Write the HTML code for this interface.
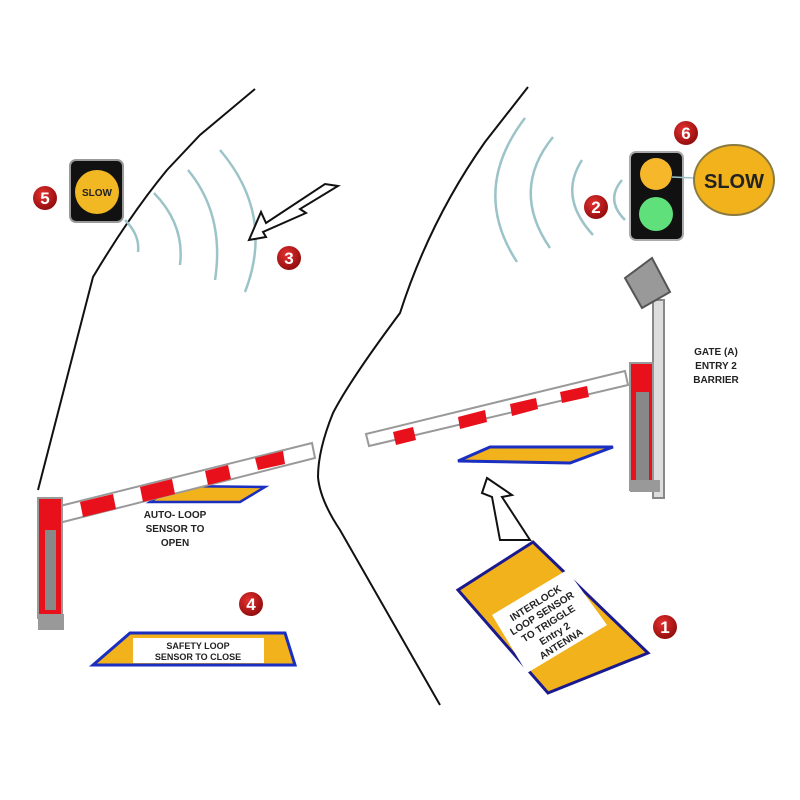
<!DOCTYPE html>
<html><head><meta charset="utf-8"><style>
html,body{margin:0;padding:0;background:#fff;}
svg{display:block;}
text{font-family:"Liberation Sans",sans-serif;}
</style></head><body>
<svg width="800" height="800" viewBox="0 0 800 800" xmlns="http://www.w3.org/2000/svg">
<defs>
<radialGradient id="rb" cx="40%" cy="35%" r="70%"><stop offset="0" stop-color="#e53030"/><stop offset="1" stop-color="#8e0b0b"/></radialGradient>
</defs>
<rect width="800" height="800" fill="#fff"/>
<!-- road lines -->
<path d="M255,89 L200,135 L167,170 Q130,215 93,277 L38,490" fill="none" stroke="#111" stroke-width="2"/>
<path d="M528,87 L485,142 Q430,220 400,313 Q350,380 333,413 Q318,450 318,477 Q320,500 340,530 L440,705" fill="none" stroke="#111" stroke-width="2"/>
<!-- arcs -->
<g fill="none" stroke="#9cc4c8" stroke-width="2.5">
<path d="M125,220 Q140,235 138,252"/>
<path d="M154,193 Q185,225 180,265"/>
<path d="M188,170 Q225,215 215,280"/>
<path d="M220,150 Q275,215 245,292"/>
<path d="M525,118 Q470,190 517,262"/>
<path d="M553,137 Q510,190 550,248"/>
<path d="M582,160 Q558,197 593,235"/>
<path d="M622,180 Q605,200 625,220"/>
</g>
<!-- arrow 3 -->
<polygon points="249,240 261,212 266,223 325,184 338,186 300,209 306,213 263,232 266,237" fill="#fff" stroke="#111" stroke-width="2"/>
<!-- sign 5 -->
<rect x="70" y="160" width="53" height="62" rx="6" fill="#111" stroke="#999" stroke-width="2"/>
<circle cx="97" cy="192" r="22" fill="#f2b824"/>
<text x="97" y="196" font-size="10" font-weight="bold" text-anchor="middle" fill="#222">SLOW</text>
<!-- traffic light -->
<rect x="630" y="152" width="53" height="88" rx="6" fill="#111" stroke="#aaa" stroke-width="2"/>
<circle cx="656" cy="174" r="16" fill="#f7b72b"/>
<circle cx="656" cy="214" r="17" fill="#5fe07a"/>
<line x1="672" y1="177" x2="694" y2="178" stroke="#9cc4c8" stroke-width="1.5"/>
<ellipse cx="734" cy="180" rx="40" ry="35" fill="#f2b21c" stroke="#8a7a40" stroke-width="2"/>
<text x="734" y="188" font-size="20" font-weight="bold" text-anchor="middle" fill="#222">SLOW</text>
<!-- camera + pole -->
<rect x="653" y="300" width="11" height="198" fill="#ddd" stroke="#888" stroke-width="2"/>
<polygon points="625,278 652,258 670,292 642,308" fill="#999" stroke="#555" stroke-width="2"/>
<!-- right boom -->
<polygon points="366,434 625,371 628,385 369,446" fill="#fff" stroke="#999" stroke-width="2"/>
<g fill="#e8101a">
<polygon points="393,432 413,427 416,440 396,445"/>
<polygon points="458,417 485,410 487,422 460,429"/>
<polygon points="510,404 536,398 538,409 512,416"/>
<polygon points="560,392 587,386 589,397 562,403"/>
</g>
<!-- right cabinet -->
<rect x="630" y="363" width="23" height="127" fill="#e8101a" stroke="#999" stroke-width="2"/>
<rect x="636" y="392" width="13" height="88" fill="#888"/>
<rect x="630" y="480" width="30" height="12" fill="#999"/>
<!-- right loop -->
<polygon points="458,461 490,447 613,447 570,463" fill="#f2b21c" stroke="#1a2ec0" stroke-width="3"/>
<!-- gate text -->
<g font-size="10" font-weight="bold" fill="#222" text-anchor="middle">
<text x="716" y="355">GATE (A)</text><text x="716" y="369">ENTRY 2</text><text x="716" y="383">BARRIER</text>
</g>
<!-- hollow arrow up -->
<polygon points="500,540 530,540 502,497 512,495 487,478 482,493 492,497" fill="#fff" stroke="#111" stroke-width="2"/>
<!-- interlock sensor -->
<polygon points="533,542 458,590 548,693 648,653" fill="#f2b21c" stroke="#1a1a8e" stroke-width="3"/>
<polygon points="492,615 567,570 607,625 527,673" fill="#fff"/>
<g transform="translate(548,623) rotate(-32)" font-size="10" font-weight="bold" fill="#222" text-anchor="middle">
<text x="0" y="-20">INTERLOCK</text><text x="0" y="-8">LOOP SENSOR</text><text x="0" y="4">TO TRIGGLE</text><text x="0" y="16">Entry 2</text><text x="0" y="28">ANTENNA</text>
</g>
<!-- left loop auto (under boom) -->
<polygon points="150,502 175,486 265,487 240,502" fill="#f2b21c" stroke="#1a2ec0" stroke-width="2.5"/>
<!-- left boom -->
<polygon points="52,508 312,443 315,458 55,524" fill="#fff" stroke="#999" stroke-width="2"/>
<g fill="#e8101a">
<polygon points="80,502 113,494 116,509 83,517"/>
<polygon points="140,487 172,479 175,494 143,502"/>
<polygon points="205,471 228,465 231,479 208,485"/>
<polygon points="255,458 283,451 285,464 258,470"/>
</g>
<!-- left cabinet -->
<rect x="38" y="498" width="24" height="120" fill="#e8101a" stroke="#999" stroke-width="2"/>
<rect x="45" y="530" width="11" height="80" fill="#888"/>
<rect x="38" y="614" width="26" height="16" fill="#999"/>
<g font-size="10" font-weight="bold" fill="#222" text-anchor="middle">
<text x="175" y="518">AUTO- LOOP</text><text x="175" y="532">SENSOR TO</text><text x="175" y="546">OPEN</text>
</g>
<!-- safety loop -->
<polygon points="93,665 130,633 285,633 295,665" fill="#f2b21c" stroke="#1a2ec0" stroke-width="3"/>
<rect x="133" y="638" width="131" height="25" fill="#fff"/>
<g font-size="9" font-weight="bold" fill="#222" text-anchor="middle">
<text x="198" y="649">SAFETY LOOP</text><text x="198" y="660">SENSOR TO CLOSE</text>
</g>
<!-- badges -->
<g font-size="17" font-weight="bold" fill="#fff" text-anchor="middle">
<circle cx="45" cy="198" r="12" fill="url(#rb)"/><text x="45" y="204">5</text>
<circle cx="289" cy="258" r="12" fill="url(#rb)"/><text x="289" y="264">3</text>
<circle cx="596" cy="207" r="12" fill="url(#rb)"/><text x="596" y="213">2</text>
<circle cx="686" cy="133" r="12" fill="url(#rb)"/><text x="686" y="139">6</text>
<circle cx="665" cy="627" r="12" fill="url(#rb)"/><text x="665" y="633">1</text>
<circle cx="251" cy="604" r="12" fill="url(#rb)"/><text x="251" y="610">4</text>
</g>
</svg>
</body></html>
